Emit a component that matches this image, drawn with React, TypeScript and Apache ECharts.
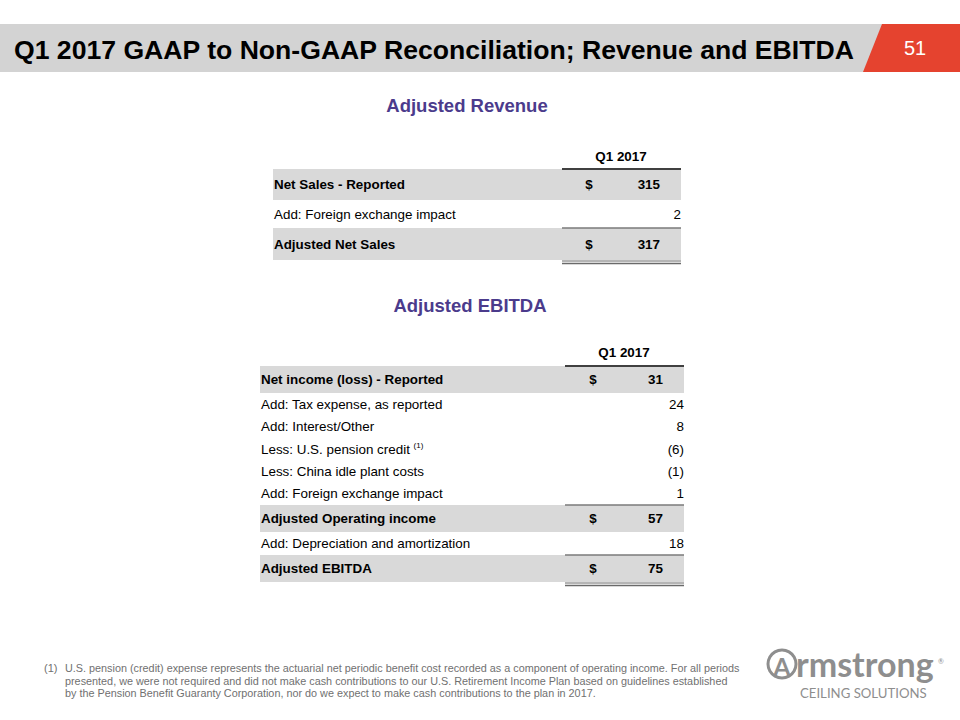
import React, { useEffect, useRef } from "react";
import * as echarts from "echarts";

const slideTitle = "Q1 2017 GAAP to Non-GAAP Reconciliation; Revenue and EBITDA";
const pageNumber = "51";
const periodLabel = "Q1 2017";

const revenueTitle = "Adjusted Revenue";
const revenueLabels = ["Net Sales - Reported", "Add: Foreign exchange impact", "Adjusted Net Sales"];
const revenueValues = [315, 2, 317];
const revenueKinds = ["total", "item", "total"];
const revenueNotes = ["", "", ""];

const ebitdaTitle = "Adjusted EBITDA";
const ebitdaLabels = [
  "Net income (loss) - Reported",
  "Add: Tax expense, as reported",
  "Add: Interest/Other",
  "Less: U.S. pension credit",
  "Less: China idle plant costs",
  "Add: Foreign exchange impact",
  "Adjusted Operating income",
  "Add: Depreciation and amortization",
  "Adjusted EBITDA",
];
const ebitdaValues = [31, 24, 8, -6, -1, 1, 57, 18, 75];
const ebitdaKinds = ["total", "item", "item", "item", "item", "item", "total", "item", "total"];
const ebitdaNotes = ["", "", "", "(1)", "", "", "", "", ""];

const footnoteMark = "(1)";
const footnoteLines = [
  "U.S. pension (credit) expense represents the actuarial net periodic benefit cost recorded as a component of operating income. For all periods",
  "presented, we were not required and did not make cash contributions to our U.S. Retirement Income Plan based on guidelines established",
  "by the Pension Benefit Guaranty Corporation, nor do we expect to make cash contributions to the plan in 2017.",
];

const FONT = "'Liberation Sans', Arial, sans-serif";
const GRAY_ROW = "#d9d9d9";
const FS = 13.4;

function fmt(v: number) {
  return v < 0 ? `(${Math.abs(v)})` : String(v);
}

type TableGeom = {
  left: number;
  right: number;
  colStart: number;
  dollarX: number;
  totalValRight: number;
  itemValRight: number;
  headerY: number;
  top: number;
  heights: number[];
  titleX: number;
  titleY: number;
  headerX: number;
};

function buildTable(
  title: string,
  labels: string[],
  values: number[],
  kinds: string[],
  notes: string[],
  g: TableGeom
) {
  const els: any[] = [];
  els.push({
    type: "text",
    x: g.titleX,
    y: g.titleY,
    style: {
      text: title,
      fill: "#4b3b8c",
      font: `bold 18.5px ${FONT}`,
      align: "center",
      verticalAlign: "middle",
    },
  });
  els.push({
    type: "text",
    x: g.headerX,
    y: g.headerY,
    style: {
      text: periodLabel,
      fill: "#000",
      font: `bold ${FS}px ${FONT}`,
      align: "center",
      verticalAlign: "middle",
    },
  });
  let y = g.top;
  const lines: any[] = [];
  labels.forEach((lab, i) => {
    const h = g.heights[i];
    const total = kinds[i] === "total";
    const cy = y + h / 2;
    if (total) {
      els.push({
        type: "rect",
        shape: { x: g.left, y, width: g.right - g.left, height: h },
        style: { fill: GRAY_ROW },
      });
      if (i > 0) {
        lines.push({
          type: "line",
          shape: { x1: g.colStart, y1: y, x2: g.right, y2: y },
          style: { stroke: "#7a7a7a", lineWidth: 1.5 },
        });
      }
    }
    const note = notes[i];
    els.push({
      type: "text",
      x: g.left + 1,
      y: cy,
      style: {
        text: note ? `{n|${lab} }{s|${note}}` : lab,
        fill: "#000",
        font: `${total ? "bold " : ""}${FS}px ${FONT}`,
        verticalAlign: "middle",
        rich: {
          n: { font: `${FS}px ${FONT}`, fill: "#000" },
          s: { font: `8px ${FONT}`, fill: "#000", padding: [0, 0, 7, 0] },
        },
      },
    });
    if (total) {
      els.push({
        type: "text",
        x: g.dollarX,
        y: cy,
        style: { text: "$", fill: "#000", font: `bold ${FS}px ${FONT}`, align: "center", verticalAlign: "middle" },
      });
      els.push({
        type: "text",
        x: g.totalValRight,
        y: cy,
        style: { text: fmt(values[i]), fill: "#000", font: `bold ${FS}px ${FONT}`, align: "right", verticalAlign: "middle" },
      });
    } else {
      els.push({
        type: "text",
        x: g.itemValRight,
        y: cy,
        style: { text: fmt(values[i]), fill: "#000", font: `${FS}px ${FONT}`, align: "right", verticalAlign: "middle" },
      });
    }
    y += h;
  });
  els.push({
    type: "line",
    shape: { x1: g.colStart, y1: g.top, x2: g.right, y2: g.top },
    style: { stroke: "#404040", lineWidth: 2 },
  });
  els.push(...lines);
  els.push({
    type: "line",
    shape: { x1: g.colStart, y1: y + 1, x2: g.right, y2: y + 1 },
    style: { stroke: "#6a6a6a", lineWidth: 1 },
  });
  els.push({
    type: "line",
    shape: { x1: g.colStart, y1: y + 3.5, x2: g.right, y2: y + 3.5 },
    style: { stroke: "#6a6a6a", lineWidth: 1.5 },
  });
  return els;
}

export default function App() {
  const ref = useRef<HTMLDivElement>(null);
  useEffect(() => {
    if (!ref.current) return;
    const chart = echarts.init(ref.current, undefined, { renderer: "svg" });
    const elements: any[] = [];

    elements.push({
      type: "rect",
      shape: { x: 0, y: 24, width: 960, height: 48 },
      style: { fill: "#d3d3d3" },
    });
    elements.push({
      type: "polygon",
      shape: { points: [[882, 24], [960, 24], [960, 72], [863, 72]] },
      style: { fill: "#e5432f" },
    });
    elements.push({
      type: "text",
      x: 14,
      y: 50,
      style: { text: slideTitle, fill: "#000", font: `bold 26.6px ${FONT}`, verticalAlign: "middle" },
    });
    elements.push({
      type: "text",
      x: 915,
      y: 48,
      style: { text: pageNumber, fill: "#fff", font: `20px ${FONT}`, align: "center", verticalAlign: "middle" },
    });

    elements.push(
      ...buildTable(revenueTitle, revenueLabels, revenueValues, revenueKinds, revenueNotes, {
        left: 273,
        right: 681,
        colStart: 562,
        dollarX: 589,
        totalValRight: 660,
        itemValRight: 681,
        headerY: 156,
        top: 169,
        heights: [31, 28, 32],
        titleX: 467,
        titleY: 105,
        headerX: 621,
      })
    );
    elements.push(
      ...buildTable(ebitdaTitle, ebitdaLabels, ebitdaValues, ebitdaKinds, ebitdaNotes, {
        left: 260,
        right: 684,
        colStart: 565,
        dollarX: 593,
        totalValRight: 663,
        itemValRight: 684,
        headerY: 352,
        top: 366,
        heights: [27, 22.4, 22.4, 22.4, 22.4, 22.4, 27, 23, 27],
        titleX: 470,
        titleY: 305,
        headerX: 624,
      })
    );

    elements.push({
      type: "text",
      x: 44,
      y: 668,
      style: { text: footnoteMark, fill: "#707070", font: `11px ${FONT}`, verticalAlign: "middle" },
    });
    footnoteLines.forEach((t, i) => {
      elements.push({
        type: "text",
        x: 65,
        y: 668 + i * 12.5,
        scaleX: 0.985,
        originX: 0,
        style: { text: t, fill: "#707070", font: `11px ${FONT}`, verticalAlign: "middle" },
      });
    });

    const LOGO = "#8e8e8e";
    elements.push({
      type: "ring",
      shape: { cx: 782, cy: 664, r: 15.5, r0: 12.5 },
      style: { fill: LOGO },
    });
    elements.push({
      type: "text",
      x: 782,
      y: 666,
      style: { text: "A", fill: LOGO, font: `bold 25px Lato, sans-serif`, align: "center", verticalAlign: "middle" },
    });
    elements.push({
      type: "text",
      x: 796,
      y: 663,
      style: { text: "rmstrong", fill: LOGO, font: `bold 34px Lato, sans-serif`, verticalAlign: "middle" },
    });
    elements.push({
      type: "text",
      x: 941,
      y: 661,
      style: { text: "®", fill: LOGO, font: `7px Lato, sans-serif`, align: "center", verticalAlign: "middle" },
    });
    elements.push({
      type: "text",
      x: 800,
      y: 693,
      style: { text: "CEILING SOLUTIONS", fill: LOGO, font: `13.2px Lato, sans-serif`, verticalAlign: "middle" },
    });

    chart.setOption({
      animation: false,
      backgroundColor: "#ffffff",
      graphic: { elements },
    });
    return () => chart.dispose();
  }, []);
  return <div ref={ref} style={{ position: "absolute", left: 0, top: 0, width: 960, height: 720 }} />;
}
